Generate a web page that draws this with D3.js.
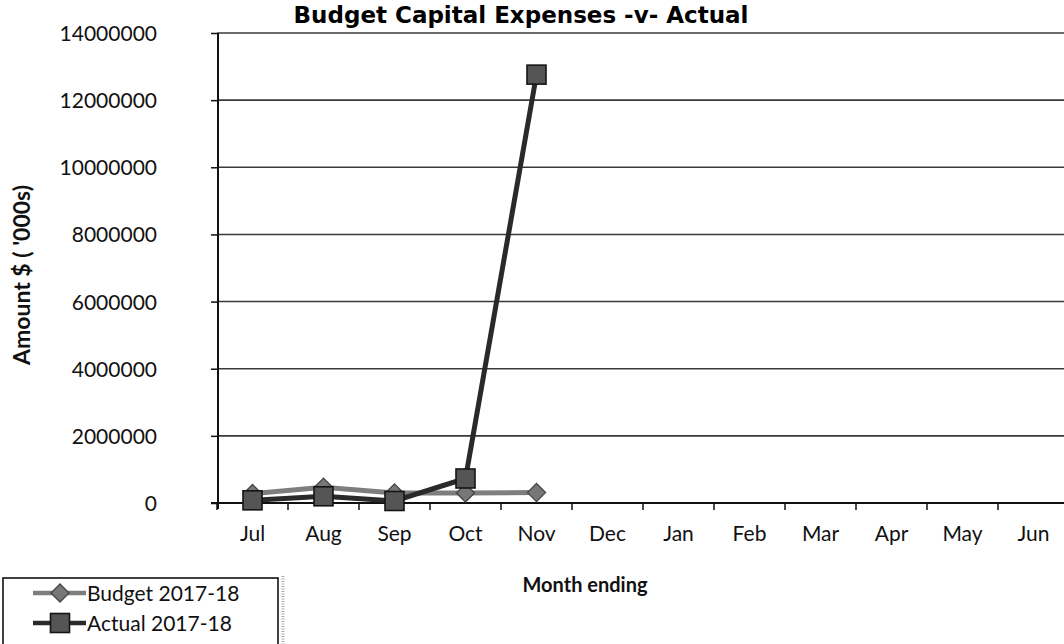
<!DOCTYPE html>
<html>
<head>
<meta charset="utf-8">
<script src="https://cdn.jsdelivr.net/npm/d3@7"></script>
<style>
  html, body { margin: 0; padding: 0; background: #fff; }
  svg { display: block; }
  .lbl { font-family: Lato, "Open Sans", sans-serif; fill: #111; }
</style>
</head>
<body>
<svg id="chart" width="1064" height="644"></svg>
<script>
// Monthly capital expenses, financial year July–June
const months = ["Jul", "Aug", "Sep", "Oct", "Nov", "Dec", "Jan", "Feb", "Mar", "Apr", "May", "Jun"];
const budget = [280000, 470000, 300000, 300000, 310000];
const actual = [80000, 200000, 60000, 730000, 12760000];
const yTicks = [0, 2000000, 4000000, 6000000, 8000000, 10000000, 12000000, 14000000];
const seriesNames = ["Budget 2017-18", "Actual 2017-18"];

const svg = d3.select("#chart");

const plot = { left: 217, right: 1069, top: 33, bottom: 503 };

const x = d3.scaleBand().domain(months).range([plot.left, plot.right]).padding(0);
const y = d3.scaleLinear().domain([0, 14000000]).range([plot.bottom, plot.top]);
const cx = m => x(m) + x.bandwidth() / 2;

// Horizontal gridlines
svg.append("g")
  .selectAll("line")
  .data(yTicks.filter(v => v > 0))
  .join("line")
  .attr("x1", plot.left).attr("x2", 1064)
  .attr("y1", d => y(d)).attr("y2", d => y(d))
  .attr("stroke", "#3a3a3a").attr("stroke-width", 1.6);

// Y axis
const yAxis = d3.axisLeft(y).tickValues(yTicks).tickSize(6).tickPadding(54)
  .tickFormat(d3.format("d"));
const gy = svg.append("g").attr("transform", `translate(${plot.left},0)`).call(yAxis);
gy.select(".domain").remove();
gy.selectAll(".tick line").attr("stroke", "#111").attr("stroke-width", 1.5);
gy.selectAll(".tick text").attr("class", "lbl").style("font-size", "21px")
  .attr("text-anchor", "end").attr("dy", "0.36em");
svg.append("line")
  .attr("x1", plot.left + 1).attr("x2", plot.left + 1)
  .attr("y1", plot.top).attr("y2", plot.bottom + 6)
  .attr("stroke", "#111").attr("stroke-width", 2);

// X axis with ticks on the category boundaries
const xAxis = d3.axisBottom(x).tickSize(0).tickPadding(23);
const gx = svg.append("g").attr("transform", `translate(0,${plot.bottom})`).call(xAxis);
gx.select(".domain").remove();
gx.selectAll(".tick text").attr("class", "lbl").style("font-size", "21px").attr("dy", "0.71em");
svg.append("line")
  .attr("x1", plot.left - 6).attr("x2", 1064)
  .attr("y1", plot.bottom).attr("y2", plot.bottom)
  .attr("stroke", "#111").attr("stroke-width", 2);
svg.append("g")
  .selectAll("line")
  .data(months.map(m => x(m)).concat([plot.right]))
  .join("line")
  .attr("x1", d => d).attr("x2", d => d)
  .attr("y1", plot.bottom).attr("y2", plot.bottom + 7)
  .attr("stroke", "#111").attr("stroke-width", 1.5);

// Series lines
const line = d3.line().x((d, i) => cx(months[i])).y(d => y(d));
svg.append("path").datum(budget).attr("d", line)
  .attr("fill", "none").attr("stroke", "#7e7e7e").attr("stroke-width", 5);
svg.append("path").datum(actual).attr("d", line)
  .attr("fill", "none").attr("stroke", "#2a2a2a").attr("stroke-width", 5);

// Markers
const diamond = d3.symbol().type(d3.symbolDiamond2).size(210);
svg.append("g").selectAll("path")
  .data(budget).join("path")
  .attr("d", diamond)
  .attr("transform", (d, i) => `translate(${cx(months[i])},${y(d)})`)
  .attr("fill", "#777").attr("stroke", "#444").attr("stroke-width", 1.3);
svg.append("g").selectAll("rect")
  .data(actual).join("rect")
  .attr("x", (d, i) => cx(months[i]) - 9.5).attr("y", d => y(d) - 9.5)
  .attr("width", 19).attr("height", 19)
  .attr("fill", "#555").attr("stroke", "#151515").attr("stroke-width", 1.6);

// Titles
svg.append("text").attr("x", 521).attr("y", 23).attr("text-anchor", "middle")
  .style("font-family", "'DejaVu Sans', Verdana, sans-serif")
  .style("font-weight", "bold").style("font-size", "23px").attr("fill", "#000")
  .text("Budget Capital Expenses -v- Actual");
svg.append("text").attr("class", "lbl")
  .attr("transform", "translate(30,275) rotate(-90)").attr("text-anchor", "middle")
  .style("font-size", "23px").style("font-weight", "bold")
  .text("Amount $ ( '000s)");
svg.append("text").attr("class", "lbl").attr("x", 585).attr("y", 592)
  .attr("text-anchor", "middle").style("font-size", "20px").style("font-weight", "bold")
  .text("Month ending");

// Legend
const legend = svg.append("g");
legend.append("rect").attr("x", 3).attr("y", 578).attr("width", 275).attr("height", 80)
  .attr("fill", "#fff").attr("stroke", "#111").attr("stroke-width", 1.6);
legend.append("line").attr("x1", 283).attr("x2", 283).attr("y1", 576).attr("y2", 644)
  .attr("stroke", "#aaa").attr("stroke-width", 3).attr("stroke-dasharray", "1,1.5");
const rows = [
  { name: seriesNames[0], y: 593, stroke: "#7e7e7e", marker: "diamond" },
  { name: seriesNames[1], y: 623, stroke: "#2a2a2a", marker: "square" }
];
rows.forEach(r => {
  legend.append("line").attr("x1", 33).attr("x2", 86).attr("y1", r.y).attr("y2", r.y)
    .attr("stroke", r.stroke).attr("stroke-width", 4.5);
  if (r.marker === "diamond") {
    legend.append("path").attr("d", diamond).attr("transform", `translate(60,${r.y})`)
      .attr("fill", "#777").attr("stroke", "#444").attr("stroke-width", 1.3);
  } else {
    legend.append("rect").attr("x", 50.5).attr("y", r.y - 9.5).attr("width", 19).attr("height", 19)
      .attr("fill", "#555").attr("stroke", "#151515").attr("stroke-width", 1.6);
  }
  legend.append("text").attr("class", "lbl").attr("x", 87).attr("y", r.y + 8)
    .style("font-size", "21px").text(r.name);
});
</script>
</body>
</html>
